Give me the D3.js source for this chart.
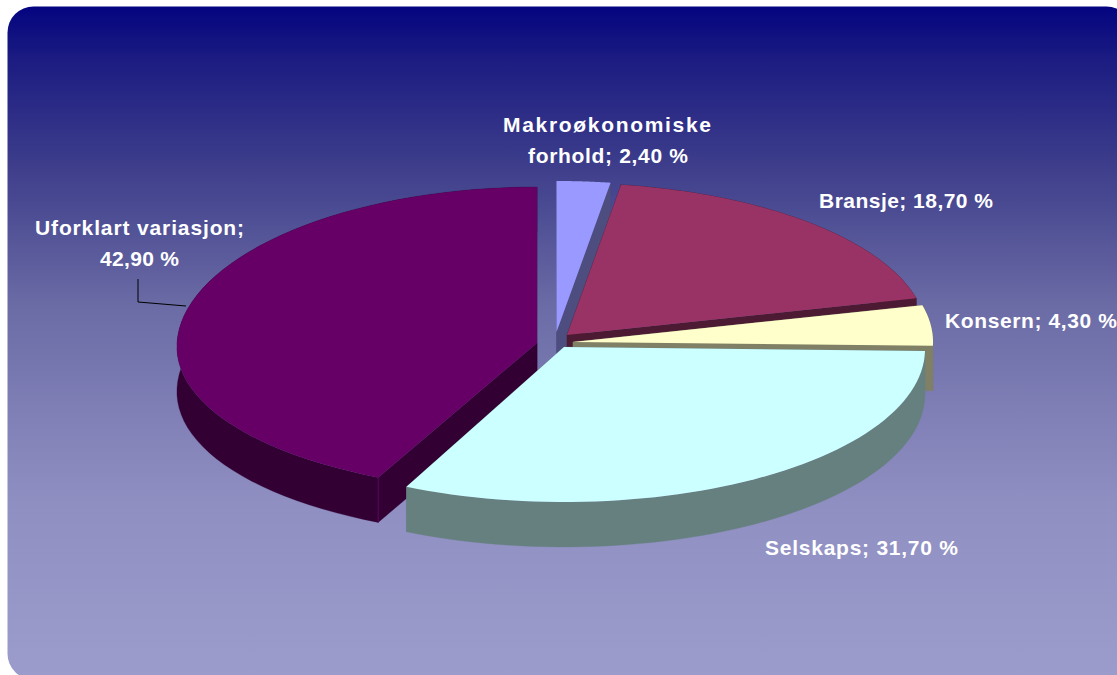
<!DOCTYPE html>
<html><head><meta charset="utf-8">
<script src="https://cdn.jsdelivr.net/npm/d3@7"></script>
<style>
html,body{margin:0;padding:0;background:#fff;overflow:hidden}
text{font-family:"Liberation Sans",Arial,sans-serif;font-weight:bold;fill:#fff;font-size:21px}
</style></head><body>
<svg id="c" width="1117" height="675"></svg>
<script>
const categories = ["Makroøkonomiske forhold","Bransje","Konsern","Selskaps","Uforklart variasjon"];
const values = [2.4,18.7,4.3,31.7,42.9];
const topColors = ["#9999FF","#993366","#FFFFCC","#CCFFFF","#660066"];
const wallColors = ["#4D4D80","#4D1A33","#808066","#668080","#330033"];
const labelLines = [["Makroøkonomiske","forhold; 2,40 %"],["Bransje; 18,70 %"],["Konsern; 4,30 %"],["Selskaps; 31,70 %"],["Uforklart variasjon;","42,90 %"]];
// layout of the exploded slices
const sliceLayout = [
 {cx:556.5,cy:332,rx:360,far:151,near:151,k:0},
 {cx:567,cy:335,rx:360,far:152,near:152,k:0},
 {cx:573,cy:342,rx:360,far:152,near:152,k:0},
 {cx:564,cy:347,rx:361,far:154,near:155,k:0.0125},
 {cx:537,cy:343,rx:360,far:156,near:149,k:0.025}
];
const labelLayout = [
 {x:[607,608],y:[132,163],w:[208,160]},
 {x:[906],y:[208],w:[174]},
 {x:[1031],y:[328],w:[172]},
 {x:[861.5],y:[555],w:[193]},
 {x:[139.5,139.5],y:[235,266],w:[209,79]}
];
const depth = 45;
const drawOrder = [0,1,2,4,3];
const gradientStops = [[0,"#040480"],[0.08,"#1c1c82"],[0.244,"#3f3f8c"],[0.44,"#6a6aa5"],[0.59,"#7e7eb5"],[0.74,"#8f8fc2"],[1,"#9c9ccc"]];

const svg = d3.select("#c");
const defs = svg.append("defs");
const g = defs.append("linearGradient").attr("id","bg").attr("x1",0).attr("y1",0).attr("x2",0).attr("y2",1);
gradientStops.forEach(s=>g.append("stop").attr("offset",s[0]).attr("stop-color",s[1]));
svg.append("rect").attr("x",7.5).attr("y",6.5).attr("width",1125).attr("height",673).attr("rx",26).attr("ry",26).attr("fill","url(#bg)");

const arcs = d3.pie().sort(null).value(d=>d)(values);
const line = d3.line();
const project = (L,a,dz=0)=>{
  const c=Math.cos(a);
  return [L.cx+L.rx*Math.sin(a)*(1-L.k*c), L.cy-(c>=0?L.far:L.near)*c+dz];
};
const sampleArc = (L,a0,a1,dz=0)=>d3.range(0,61).map(i=>project(L,a0+(a1-a0)*i/60,dz));

const walls = (arc,L)=>{
  const out=[], a0=arc.startAngle, a1=arc.endAngle;
  const apex=[L.cx,L.cy], apexB=[L.cx,L.cy+depth];
  out.push([apex,project(L,a0),project(L,a0,depth),apexB]);
  out.push([apex,project(L,a1),project(L,a1,depth),apexB]);
  const top=sampleArc(L,a0,a1), bot=sampleArc(L,a0,a1,depth).reverse();
  out.push(top.concat(bot));
  return out;
};

const sl = svg.append("g");
drawOrder.forEach(i=>{
  const L=sliceLayout[i], arc=arcs[i];
  const gs=sl.append("g").attr("class","slice").attr("data-category",categories[i]);
  walls(arc,L).forEach(p=>{
    gs.append("path").attr("d",line(p)+"Z").attr("fill",wallColors[i]).attr("stroke",wallColors[i]).attr("stroke-width",.3);
  });
  const topPts=[[L.cx,L.cy]].concat(sampleArc(L,arc.startAngle,arc.endAngle));
  gs.append("path").attr("d",line(topPts)+"Z").attr("fill",topColors[i]);
  if(i===4){
    const e=project(L,arc.startAngle);
    gs.append("line").attr("x1",e[0]).attr("y1",e[1]).attr("x2",e[0]).attr("y2",e[1]+depth).attr("stroke","#660066").attr("stroke-width",.8);
  }
});

svg.append("path").attr("d",line([[138,279],[138,302],[186,306]])).attr("fill","none").attr("stroke","#000").attr("stroke-width",1);

labelLines.forEach((lines,i)=>{
  lines.forEach((t,k)=>{
    const lay=labelLayout[i];
    svg.append("text").attr("x",lay.x[k]).attr("y",lay.y[k]).attr("text-anchor","middle")
      .attr("textLength",lay.w[k]).attr("lengthAdjust","spacing").text(t);
  });
});
</script></body></html>
